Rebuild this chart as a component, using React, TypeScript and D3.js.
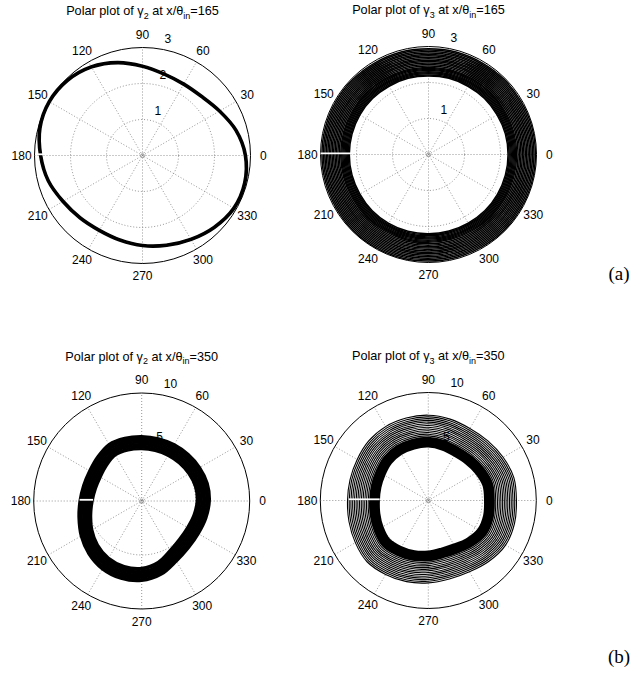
import React from 'react';
import * as d3 from 'd3';

// angles (degrees, counter-clockwise from 0) at which the curves were read
const ANGLES = [0, 15, 30, 45, 60, 75, 90, 105, 120, 135, 150, 165, 180, 195, 210, 225, 240, 255, 270, 285, 300, 315, 330, 345];

// (a) gamma2 at x/theta_in = 165 : centre of the thick trace
const G2_165 = [2.85, 2.68, 2.46, 2.31, 2.28, 2.33, 2.47, 2.66, 2.83, 2.94, 2.98, 2.94, 2.82, 2.7, 2.54, 2.44, 2.39, 2.42, 2.49, 2.57, 2.68, 2.81, 2.92, 2.93];
const G2_165_OFFSETS = [-0.02, 0, 0.02, 0.04];

// (a) gamma3 at x/theta_in = 165 : innermost ring, then ring offsets
const G3_165 = [2.21, 2.21, 2.2, 2.2, 2.19, 2.19, 2.18, 2.19, 2.19, 2.2, 2.2, 2.2, 2.2, 2.2, 2.2, 2.21, 2.21, 2.21, 2.2, 2.2, 2.2, 2.21, 2.21, 2.21];
const G3_165_OFFSETS = [0, 0.03, 0.06, 0.09, 0.12, 0.15, 0.18, 0.21, 0.24, 0.28, 0.32, 0.36, 0.4, 0.44, 0.48, 0.52, 0.56, 0.6, 0.64, 0.68, 0.72, 0.76];

// (b) gamma2 at x/theta_in = 350 : centre of the band
const G2_350 = [5.7, 5.72, 5.62, 5.52, 5.45, 5.4, 5.4, 5.45, 5.48, 5.2, 5.0, 5.0, 5.15, 5.45, 5.9, 6.35, 6.7, 6.85, 6.8, 6.45, 5.85, 5.55, 5.48, 5.58];
const G2_350_OFFSETS = [-0.6, -0.45, -0.3, -0.15, 0, 0.15, 0.3, 0.45, 0.6];

// (b) gamma3 at x/theta_in = 350 : inner edge, solid part, then separated traces
const G3_350 = [5.26, 5.3, 5.1, 4.9, 4.8, 4.9, 5.0, 5.0, 5.0, 4.9, 4.7, 4.6, 4.58, 4.7, 4.9, 5.12, 5.0, 4.88, 4.73, 4.62, 4.72, 5.05, 5.36, 5.36];
const G3_350_SOLID = [0, 0.1, 0.2, 0.3, 0.4, 0.5, 0.6, 0.7, 0.8];
const G3_350_LINES = [0.98, 1.14, 1.3, 1.46, 1.62, 1.78, 1.94, 2.1, 2.26, 2.42, 2.58, 2.74, 2.9];

const SPOKES = [0, 30, 60, 90, 120, 150];
const ANGLE_LABELS = [0, 30, 60, 90, 120, 150, 180, 210, 240, 270, 300, 330];

const FONT = 'Liberation Sans, Arial, Helvetica, sans-serif';

type Layer = { offsets: number[]; width: number };

type PanelProps = {
  cx: number;
  cy: number;
  rmax: number;
  rinc: number;
  sub: string;
  pos: string;
  base: number[];
  layers: Layer[];
  gap: [number, number];
};

const R = 108;

function Panel({ cx, cy, rmax, rinc, sub, pos, base, layers, gap }: PanelProps) {
  const r = d3.scaleLinear().domain([0, rmax]).range([0, R]);
  const toRad = (deg: number) => (deg * Math.PI) / 180;
  const line = d3
    .lineRadial<[number, number]>()
    .angle((d) => toRad(90 - d[0]))
    .radius((d) => r(d[1]))
    .curve(d3.curveCatmullRomClosed.alpha(0.5));
  const rings = d3.range(rinc, rmax - rinc / 2, rinc);
  const rlabels = d3.range(rinc, rmax + rinc / 2, rinc);
  const circle = (rad: number) => {
    const pts: [number, number][] = d3.range(0, 360, 2).map((a) => [a, rad] as [number, number]);
    return d3
      .lineRadial<[number, number]>()
      .angle((d) => toRad(90 - d[0]))
      .radius((d) => r(d[1]))
      .curve(d3.curveLinearClosed)(pts) as string;
  };
  const titleY = cy - 140.5;
  return (
    <g>
      <text x={cx} y={titleY} textAnchor="middle" fontFamily={FONT} fontSize={12.7} fill="#000">
        {'Polar plot of \u03B3'}
        <tspan dy={3.5} fontSize={9}>{sub}</tspan>
        <tspan dy={-3.5}>{' at x/\u03B8'}</tspan>
        <tspan dy={3.5} fontSize={9}>in</tspan>
        <tspan dy={-3.5}>{'=' + pos}</tspan>
      </text>
      <g transform={`translate(${cx},${cy})`}>
        <circle r={R} fill="#fff" stroke="none" />
        {rings.map((v) => (
          <path key={'ring' + v} d={circle(v)} fill="none" stroke="#7a7a7a" strokeWidth={0.8} strokeDasharray="1 2" />
        ))}
        {SPOKES.map((a) => (
          <line
            key={'sp' + a}
            x1={-R * Math.cos(toRad(a))}
            y1={R * Math.sin(toRad(a))}
            x2={R * Math.cos(toRad(a))}
            y2={-R * Math.sin(toRad(a))}
            stroke="#7a7a7a"
            strokeWidth={0.8}
            strokeDasharray="1 2"
          />
        ))}
        <circle r={1.8} fill="none" stroke="#888" strokeWidth={0.8} />
        <circle r={R} fill="none" stroke="#000" strokeWidth={1} />
        {rlabels.map((v) => {
          const rr = r(v + rinc / 20);
          return (
            <text
              key={'rl' + v}
              x={rr * Math.cos(toRad(82)) + 6.7}
              y={-rr * Math.sin(toRad(82)) - 3.4}
              fontFamily={FONT}
              fontSize={12}
              fill="#000"
            >
              {String(v)}
            </text>
          );
        })}
        {ANGLE_LABELS.map((a) => (
          <text
            key={'al' + a}
            x={1.12 * R * Math.cos(toRad(a))}
            y={-1.12 * R * Math.sin(toRad(a))}
            textAnchor="middle"
            dominantBaseline="central"
            fontFamily={FONT}
            fontSize={12}
            fill="#000"
          >
            {String(a)}
          </text>
        ))}
        {layers.map((layer, li) =>
          layer.offsets.map((off, oi) => {
            const pts: [number, number][] = ANGLES.map((a, i) => [a, base[i] + off] as [number, number]);
            return (
              <path
                key={`c${li}-${oi}`}
                d={line(pts) as string}
                fill="none"
                stroke="#000"
                strokeWidth={layer.width}
              />
            );
          })
        )}
        <line x1={-r(gap[1])} y1={-1.2} x2={-r(gap[0])} y2={-1.2} stroke="#fff" strokeWidth={1.8} />
      </g>
    </g>
  );
}

export default function App() {
  return (
    <svg
      width={644}
      height={684}
      viewBox="0 0 644 684"
      style={{ position: 'absolute', left: 0, top: 0, background: '#fff' }}
    >
      <rect width={644} height={684} fill="#fff" />
      <Panel
        cx={142.5}
        cy={155.5}
        rmax={3}
        rinc={1}
        sub="2"
        pos="165"
        base={G2_165}
        layers={[{ offsets: G2_165_OFFSETS, width: 1.5 }]}
        gap={[2.6, 2.98]}
      />
      <Panel
        cx={428.5}
        cy={154.5}
        rmax={3}
        rinc={1}
        sub="3"
        pos="165"
        base={G3_165}
        layers={[{ offsets: G3_165_OFFSETS, width: 1.5 }]}
        gap={[2.12, 3.0]}
      />
      <Panel
        cx={141.7}
        cy={501}
        rmax={10}
        rinc={5}
        sub="2"
        pos="350"
        base={G2_350}
        layers={[{ offsets: G2_350_OFFSETS, width: 2.4 }]}
        gap={[4.5, 5.75]}
      />
      <Panel
        cx={428.3}
        cy={500.5}
        rmax={10}
        rinc={5}
        sub="3"
        pos="350"
        base={G3_350}
        layers={[
          { offsets: G3_350_SOLID, width: 2.2 },
          { offsets: G3_350_LINES, width: 1.1 },
        ]}
        gap={[4.5, 7.35]}
      />
      <text x={619} y={280} textAnchor="middle" fontFamily="Liberation Serif, Times New Roman, serif" fontSize={19} fill="#000">
        (a)
      </text>
      <text x={619} y={663} textAnchor="middle" fontFamily="Liberation Serif, Times New Roman, serif" fontSize={19} fill="#000">
        (b)
      </text>
    </svg>
  );
}
